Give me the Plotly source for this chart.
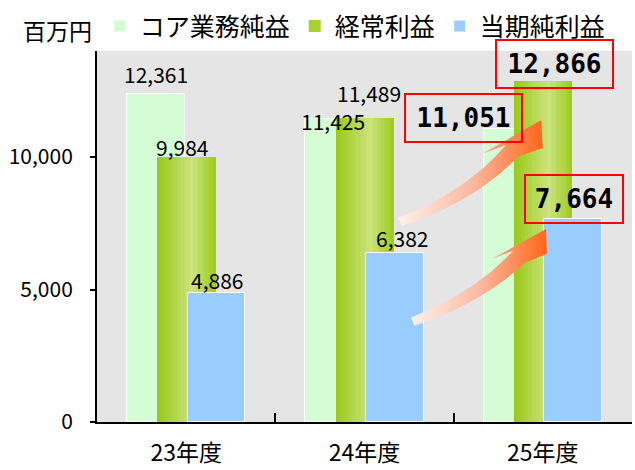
import numpy as np
import plotly.graph_objects as go

# ---- data -------------------------------------------------------------
years = ["23年度", "24年度", "25年度"]
series_names = ["コア業務純益", "経常利益", "当期純利益"]
core_profit = [12361, 11425, 11051]       # コア業務純益
ordinary_profit = [9984, 11489, 12866]    # 経常利益
net_income = [4886, 6382, 7664]           # 当期純利益
y_tick_values = [0, 5000, 10000]
unit_label = "百万円"

# ---- geometry / style -------------------------------------------------
W, H = 635, 470
MARGIN = dict(l=97, r=3, t=47, b=48)
X_RANGE = [-0.5, 2.5]
Y_RANGE = [0, 14000]
PLOT_W = W - MARGIN["l"] - MARGIN["r"]
PLOT_H = H - MARGIN["t"] - MARGIN["b"]
PX_X = PLOT_W / (X_RANGE[1] - X_RANGE[0])   # pixels per category unit
PX_Y = PLOT_H / (Y_RANGE[1] - Y_RANGE[0])   # pixels per 百万円

FONT = "Noto Sans CJK JP"
BOX_FONT = "DejaVu Sans Mono"
BAR_W = 0.325
STEP = 0.17                      # distance between overlapping bar centres
CENTERS = [-STEP, 0.0, STEP]

LIGHT_GREEN = "#d5fdd5"
BLUE = "#99ccff"
GREEN_STOPS = [(0.0, (152, 200, 22)), (0.6, (204, 228, 126)), (1.0, (156, 203, 30))]

xs = list(range(len(years)))
values = [core_profit, ordinary_profit, net_income]


def green_at(t):
    for (t0, c0), (t1, c1) in zip(GREEN_STOPS[:-1], GREEN_STOPS[1:]):
        if t0 <= t <= t1:
            f = (t - t0) / (t1 - t0)
            r, g, b = (round(a + (b_ - a) * f) for a, b_ in zip(c0, c1))
            return f"rgb({r},{g},{b})"
    return "rgb(156,203,30)"


fig = go.Figure()

# コア業務純益
fig.add_trace(go.Bar(
    x=xs, y=core_profit, name=series_names[0],
    width=BAR_W, offset=CENTERS[0] - BAR_W / 2,
    marker=dict(color=LIGHT_GREEN, line=dict(color="white", width=1)),
))

# 経常利益: base bar (legend entry) plus thin strips for the cylinder shading
fig.add_trace(go.Bar(
    x=xs, y=ordinary_profit, name=series_names[1],
    width=BAR_W, offset=CENTERS[1] - BAR_W / 2,
    marker=dict(color="#a8d22e", line=dict(width=0)),
))
N_STRIPS = 24
strip_w = BAR_W / N_STRIPS
for i in range(N_STRIPS):
    fig.add_trace(go.Bar(
        x=xs, y=ordinary_profit, showlegend=False, hoverinfo="skip",
        width=strip_w * 1.15, offset=CENTERS[1] - BAR_W / 2 + i * strip_w,
        marker=dict(color=green_at((i + 0.5) / N_STRIPS), line=dict(width=0)),
    ))

# 当期純利益
fig.add_trace(go.Bar(
    x=xs, y=net_income, name=series_names[2],
    width=BAR_W, offset=CENTERS[2] - BAR_W / 2,
    marker=dict(color=BLUE, line=dict(color="white", width=1)),
))


# ---- curved growth arrows (defined in data units) ------------------------
def to_px(p):
    return np.array([p[0] * PX_X, p[1] * PX_Y])


def to_data(q):
    return q[0] / PX_X, q[1] / PX_Y


def arrow_outline(tail, ctrl, base, tip, barb_l, barb_r, w0, w1, n=40):
    p0, p1, p2 = to_px(tail), to_px(ctrl), to_px(base)
    left, right = [], []
    for t in np.linspace(0, 1, n):
        pt = (1 - t) ** 2 * p0 + 2 * (1 - t) * t * p1 + t ** 2 * p2
        d = 2 * (1 - t) * (p1 - p0) + 2 * t * (p2 - p1)
        nrm = np.array([-d[1], d[0]]) / np.hypot(*d)
        w = (w0 + (w1 - w0) * t) / 2
        left.append(pt + nrm * w)
        right.append(pt - nrm * w)
    pts = left + [to_px(barb_l), to_px(tip), to_px(barb_r)] + right[::-1]
    ax, ay = zip(*[to_data(q) for q in pts])
    return list(ax) + [ax[0]], list(ay) + [ay[0]]


ARROWS = [
    dict(tail=(1.2, 7560), ctrl=(1.59, 8480), base=(1.827, 10230),
         tip=(1.99, 11390), barb_l=(1.66, 10120), barb_r=(2.0, 10340), w0=9, w1=17),
    dict(tail=(1.27, 3790), ctrl=(1.636, 4670), base=(1.866, 6230),
         tip=(2.018, 7280), barb_l=(1.715, 6160), barb_r=(2.023, 6350), w0=9, w1=17),
]
for a in ARROWS:
    ax, ay = arrow_outline(**a)
    fig.add_trace(go.Scatter(
        x=ax, y=ay, mode="lines", line=dict(width=0), fill="toself",
        fillgradient=dict(type="horizontal",
                          colorscale=[[0, "#fdf1ec"], [0.5, "#fbb9a2"], [1, "#ff661a"]]),
        hoverinfo="skip", showlegend=False,
    ))

# ---- value labels -------------------------------------------------------
# pixel nudges of each label relative to the top-centre of its bar
label_dx = [[0, -1], [-4, 4], [1, 7]]
label_dy = [[20, -1.5], [10, 24.5], [13, 15]]
box_dx = [-49.5, 11.5, 1]
box_dy = [11.5, 17, 19.5]
box_w = [115, 115, 96]

annotations = []
for s, vals in enumerate(values):
    for i, v in enumerate(vals):
        if i < len(years) - 1:
            annotations.append(dict(
                x=xs[i] + CENTERS[s], y=v, text=f"{v:,}", showarrow=False,
                xanchor="center", yanchor="middle",
                xshift=label_dx[s][i], yshift=label_dy[s][i],
                font=dict(family=FONT, size=21, color="black"),
            ))
        else:
            annotations.append(dict(
                x=xs[i] + CENTERS[s], y=v, text=f"<b>{v:,}</b>", showarrow=False,
                xanchor="center", yanchor="middle",
                xshift=box_dx[s], yshift=box_dy[s],
                width=box_w[s], height=46, align="center", valign="middle",
                bordercolor="#ff0000", borderwidth=2, borderpad=0,
                font=dict(family=BOX_FONT, size=26, color="black"),
            ))

annotations.append(dict(
    xref="paper", yref="paper", x=(57 - MARGIN["l"]) / PLOT_W, y=1 + 21 / PLOT_H,
    text=unit_label, showarrow=False, xanchor="center", yanchor="middle",
    font=dict(family=FONT, size=23, color="black"),
))

fig.update_layout(
    width=W, height=H, margin=MARGIN,
    paper_bgcolor="white", plot_bgcolor="#e5e5e5",
    barmode="overlay", bargap=0, hovermode=False,
    font=dict(family=FONT, color="black"),
    showlegend=True,
    legend=dict(orientation="h", x=0.005, xanchor="left", y=1 + 25 / PLOT_H, yanchor="middle",
                font=dict(family=FONT, size=25, color="black"), itemwidth=30,
                bgcolor="rgba(0,0,0,0)", itemclick=False, itemdoubleclick=False),
    annotations=annotations,
)
fig.update_xaxes(
    range=X_RANGE, tickvals=xs, ticktext=years, ticks="", automargin=False,
    showline=True, linecolor="black", linewidth=2, showgrid=False, zeroline=False,
    tickfont=dict(family=FONT, size=23, color="black"), ticklabelstandoff=9,
    minor=dict(tickvals=[0.5, 1.5], ticks="inside", ticklen=9, tickwidth=1.5, tickcolor="black"),
)
fig.update_yaxes(
    range=Y_RANGE, tickvals=y_tick_values, tickformat=",d", ticks="outside", automargin=False,
    ticklen=5, tickwidth=1.5, tickcolor="black",
    showline=True, linecolor="black", linewidth=2, showgrid=False, zeroline=False,
    tickfont=dict(family=FONT, size=21, color="black"), ticklabelstandoff=13,
)

fig.write_html("out.html", config={"displayModeBar": False})
